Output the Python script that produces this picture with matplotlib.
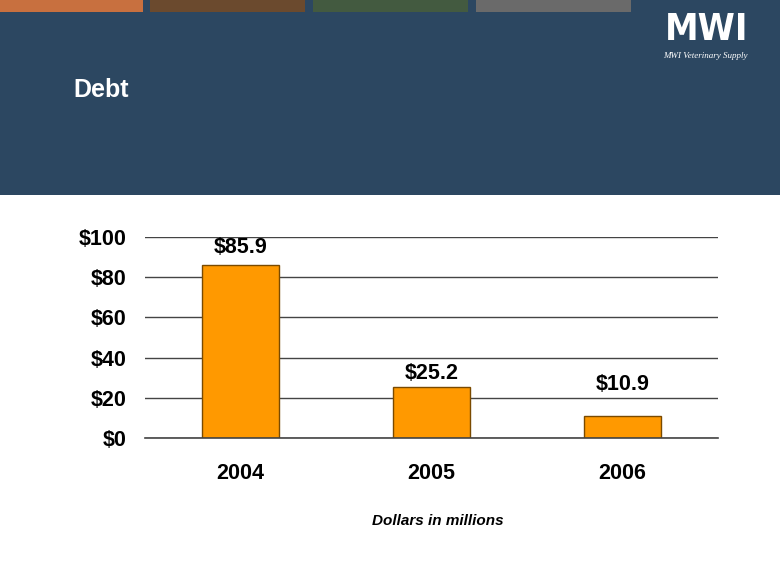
import matplotlib
matplotlib.use("Agg")
import matplotlib.pyplot as plt
from matplotlib.patches import Rectangle

# data
years  = ["2004", "2005", "2006"]
debt   = [85.9, 25.2, 10.9]
yticks = [0, 20, 40, 60, 80, 100]

# baseline of the value labels (data units), as placed on the slide
label_y = [92.0, 29.4, 23.9]

plt.rcParams['font.family'] = ['Liberation Sans', 'DejaVu Sans']

W, H = 780, 587
fig = plt.figure(figsize=(W/100., H/100.), dpi=100)
fig.patch.set_facecolor('white')

# header band
fig.patches.append(Rectangle((0, 1 - 195./H), 1, 195./H, transform=fig.transFigure,
                             facecolor='#2C4761', edgecolor='none', zorder=0))
# colour strips along the top
strips = [(0, 143, '#C8703F'), (150, 305, '#6B4A2E'), (313, 468, '#435A40'), (476, 631, '#6A6A6A')]
for x0, x1, c in strips:
    fig.patches.append(Rectangle((x0/W, 1 - 12./H), (x1 - x0)/W, 12./H, transform=fig.transFigure,
                                 facecolor=c, edgecolor='none', zorder=1))

# logo (text stand-in)
fig.text(707/W, 1 - 30./H, "MWI", color='white', fontsize=27, fontweight='bold',
         ha='center', va='center', family='DejaVu Sans', stretch='condensed')
fig.text(705/W, 1 - 56./H, "MWI Veterinary Supply", color='white', fontsize=6.5,
         style='italic', ha='center', va='center', family='Liberation Serif')

fig.text(73/W, 1 - 90./H, "Debt", color='white', fontsize=18, fontweight='bold',
         ha='left', va='center')

# chart
ax = fig.add_axes([145./W, 1 - 438./H, (718 - 145.)/W, (438 - 237.)/H])
x = range(len(years))
ax.bar(x, debt, width=0.4, color='#FF9900', edgecolor='#7A4A00', linewidth=1, zorder=3)
ax.axhline(0, color='#444444', linewidth=1.2, zorder=4, clip_on=False)
ax.set_xlim(-0.5, 2.5)
ax.set_ylim(0, 100)
ax.set_yticks(yticks)
ax.set_yticklabels(["$%d" % v for v in yticks], fontsize=15.5, fontweight='bold')
ax.set_xticks(list(x))
ax.set_xticklabels(years, fontsize=15.5, fontweight='bold')
ax.tick_params(axis='y', length=0, pad=13)
ax.tick_params(axis='x', length=0, pad=18)
ax.grid(axis='y', color='#444444', linewidth=1, zorder=0)
for s in ax.spines.values():
    s.set_visible(False)
ax.set_facecolor('none')

for xi, v, ly in zip(x, debt, label_y):
    ax.text(xi, ly, "$%.1f" % v, ha='center', va='baseline', fontsize=15.5, fontweight='bold')

fig.text(438./W, 1 - 521./H, "Dollars in millions", fontsize=11, fontweight='bold',
         style='italic', ha='center', va='center')

fig.savefig("out.png", dpi=100)
